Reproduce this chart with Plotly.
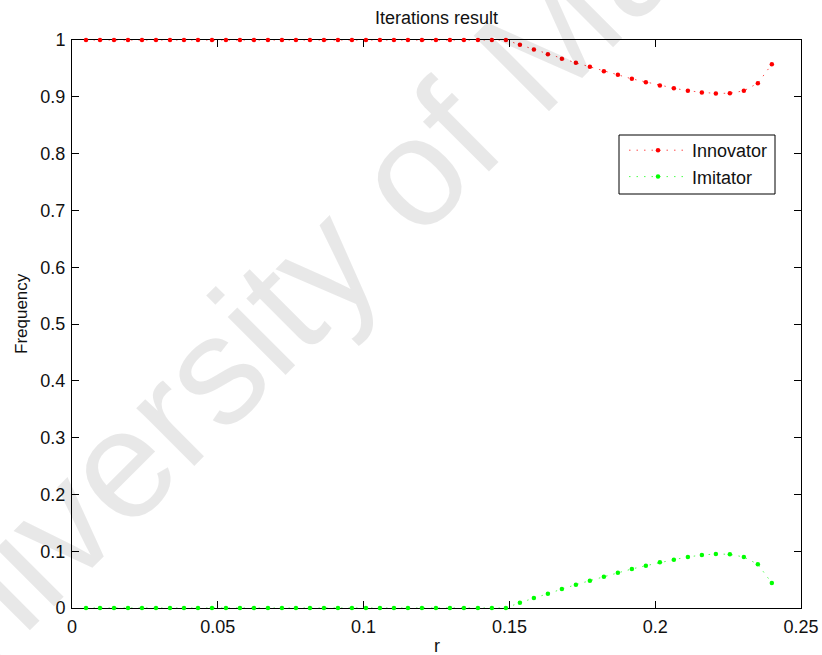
import plotly.graph_objects as go

# Sweep parameter r
r = [0.0048, 0.0096, 0.0144, 0.0192, 0.0240, 0.0288, 0.0336, 0.0384, 0.0432, 0.0480,
     0.0528, 0.0576, 0.0624, 0.0672, 0.0720, 0.0768, 0.0816, 0.0864, 0.0912, 0.0960,
     0.1008, 0.1056, 0.1104, 0.1152, 0.1200, 0.1248, 0.1296, 0.1344, 0.1392, 0.1440,
     0.1488, 0.1536, 0.1584, 0.1632, 0.1680, 0.1728, 0.1776, 0.1824, 0.1872, 0.1920,
     0.1968, 0.2016, 0.2064, 0.2112, 0.2160, 0.2208, 0.2256, 0.2304, 0.2352, 0.2400]

# Final frequency of each strategy after iterating
innovator = [1.0, 1.0, 1.0, 1.0, 1.0, 1.0, 1.0, 1.0, 1.0, 1.0,
             1.0, 1.0, 1.0, 1.0, 1.0, 1.0, 1.0, 1.0, 1.0, 1.0,
             1.0, 1.0, 1.0, 1.0, 1.0, 1.0, 1.0, 1.0, 1.0, 1.0,
             1.0, 0.9915, 0.9833, 0.9751, 0.9668, 0.9598, 0.9528, 0.9451, 0.9387, 0.9316,
             0.9258, 0.9199, 0.9152, 0.9105, 0.9076, 0.9058, 0.9064, 0.9105, 0.9240, 0.9574]
imitator = [0.0, 0.0, 0.0, 0.0, 0.0, 0.0, 0.0, 0.0, 0.0, 0.0,
            0.0, 0.0, 0.0, 0.0, 0.0, 0.0, 0.0, 0.0, 0.0, 0.0,
            0.0, 0.0, 0.0, 0.0, 0.0, 0.0, 0.0, 0.0, 0.0, 0.0,
            0.0, 0.0094, 0.0176, 0.0252, 0.0335, 0.0411, 0.0481, 0.0552, 0.0622, 0.0687,
            0.0745, 0.0804, 0.0851, 0.0898, 0.0933, 0.0951, 0.0945, 0.0898, 0.0769, 0.0440]

x_ticks = [0, 0.05, 0.1, 0.15, 0.2, 0.25]
x_tick_text = ["0", "0.05", "0.1", "0.15", "0.2", "0.25"]
y_ticks = [0, 0.1, 0.2, 0.3, 0.4, 0.5, 0.6, 0.7, 0.8, 0.9, 1]
y_tick_text = ["0", "0.1", "0.2", "0.3", "0.4", "0.5", "0.6", "0.7", "0.8", "0.9", "1"]

FONT = "Liberation Sans, Arial, Helvetica, sans-serif"
FONT_NARROW = "Liberation Sans Narrow, Arial Narrow, Liberation Sans, sans-serif"
W, H = 822, 655
ML, MR, MT, MB = 72, 21, 40, 47
PW, PH = W - ML - MR, H - MT - MB


def px_x(x):
    """Pixel column -> paper fraction."""
    return (x - ML) / PW


def px_y(y):
    """Pixel row (from top) -> paper fraction."""
    return (H - MB - y) / PH


fig = go.Figure()
fig.add_trace(go.Scatter(
    x=r, y=innovator, name="Innovator", mode="lines+markers",
    line=dict(color="rgba(255,0,0,0.7)", width=1, dash="1.5px,6px"),
    marker=dict(color="#ff0000", size=4.5),
    cliponaxis=False,
))
fig.add_trace(go.Scatter(
    x=r, y=imitator, name="Imitator", mode="lines+markers",
    line=dict(color="rgba(0,255,0,0.7)", width=1, dash="1.5px,6px"),
    marker=dict(color="#00ff00", size=4.5),
    cliponaxis=False,
))

axis_common = dict(
    showline=True, linecolor="black", linewidth=1, mirror="ticks",
    ticks="inside", ticklen=7, tickwidth=1, tickcolor="black",
    showgrid=False, zeroline=False, layer="below traces", automargin=False,
    tickfont=dict(family=FONT, size=18, color="#111111"),
)

fig.update_xaxes(range=[0, 0.25], tickvals=x_ticks, ticktext=x_tick_text,
                 ticklabelstandoff=2, **axis_common)
fig.update_yaxes(range=[0, 1], tickvals=y_ticks, ticktext=y_tick_text,
                 ticklabelstandoff=2, **axis_common)

fig.update_layout(
    template="none",
    width=W, height=H,
    margin=dict(l=ML, r=MR, t=MT, b=MB, pad=0, autoexpand=False),
    paper_bgcolor="white", plot_bgcolor="white",
    font=dict(family=FONT, color="#111111"),
    showlegend=True,
    legend=dict(
        x=px_x(624), y=px_y(132), xanchor="left", yanchor="top",
        bgcolor="rgba(0,0,0,0)", borderwidth=0,
        font=dict(family=FONT, size=18, color="#111111"),
        itemwidth=58, tracegroupgap=0,
    ),
    shapes=[
        # legend frame
        dict(type="rect", xref="paper", yref="paper",
             x0=px_x(619), x1=px_x(775), y0=px_y(194), y1=px_y(135),
             line=dict(color="black", width=1), fillcolor="white", layer="below"),
    ],
    annotations=[
        dict(text="Iterations result", xref="paper", yref="paper",
             x=0.5, y=1, yshift=22, xanchor="center", yanchor="middle",
             showarrow=False, font=dict(family=FONT, size=18, color="#111111")),
        dict(text="Frequency", xref="paper", yref="paper",
             x=0, xshift=-51, y=px_y(314), xanchor="center", yanchor="middle",
             textangle=-90, showarrow=False,
             font=dict(family=FONT_NARROW, size=17, color="#111111")),
        dict(text="r", xref="paper", yref="paper",
             x=0.5, y=0, yshift=-38, xanchor="center", yanchor="middle",
             showarrow=False, font=dict(family=FONT, size=18, color="#111111")),
        dict(text="University of Malaya", xref="paper", yref="paper",
             x=px_x(362), y=px_y(222), xanchor="center", yanchor="middle",
             textangle=-45, showarrow=False,
             font=dict(family=FONT, size=155, color="rgba(0,0,0,0.09)")),
    ],
)

fig.write_html("out.html")
